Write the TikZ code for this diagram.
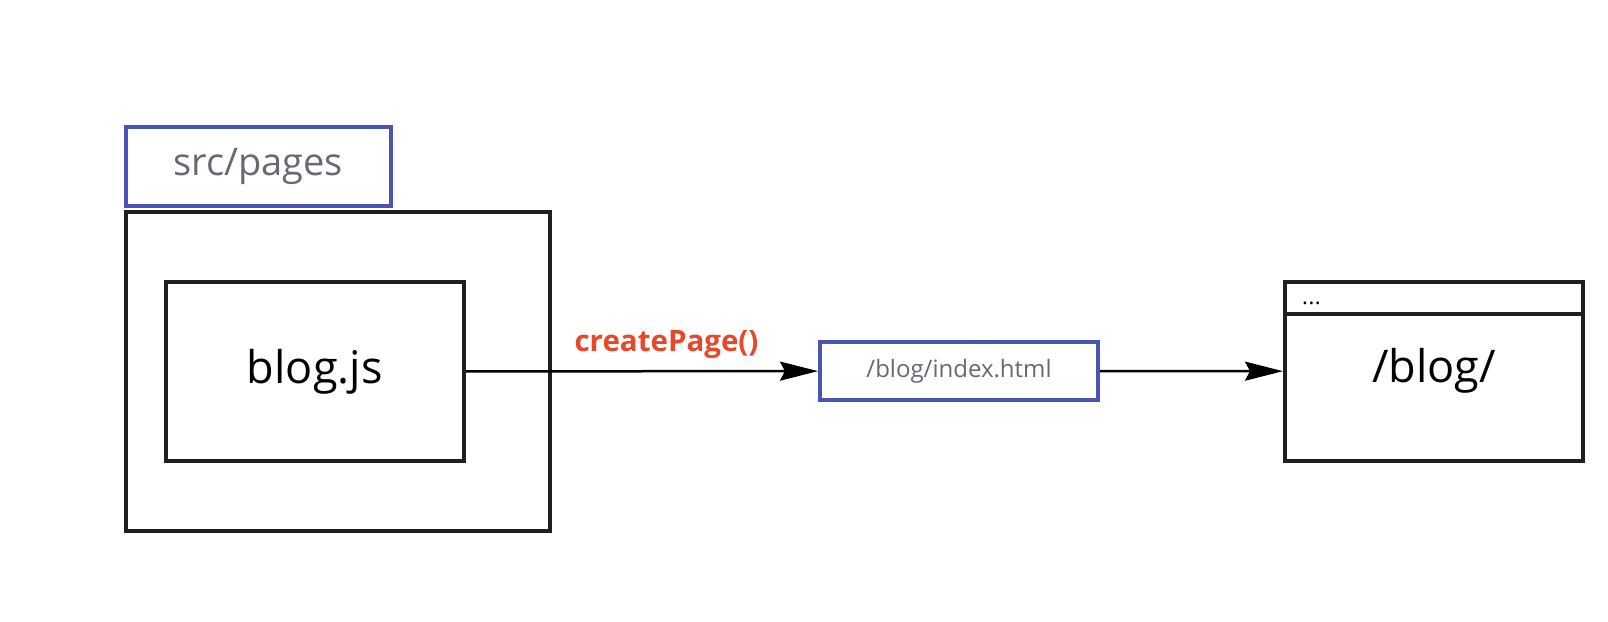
\documentclass[tikz,border=0pt]{standalone}
\usepackage{fontspec}
\setmainfont{Open Sans}
\usetikzlibrary{arrows.meta}
\definecolor{bluebox}{HTML}{4A54B5}
\definecolor{graytext}{HTML}{666A72}
\definecolor{orangetext}{HTML}{E6482A}
\begin{document}
\begin{tikzpicture}[x=1pt,y=-1pt,
  blackbox/.style={draw=black!88, line width=4pt, rectangle, inner sep=0pt, fill=white},
  bluebx/.style={draw=bluebox, line width=4pt, rectangle, inner sep=0pt, fill=white, text=graytext},
  conn/.style={line width=2.5pt, -{Stealth[length=38pt,width=19pt,inset=5pt]}}
]
\useasboundingbox[fill=white] (0,0) rectangle (1608,621);
\node[blackbox, minimum width=423.5pt, minimum height=319pt] (outer) at (337.75,371.5) {};
\node[bluebx, minimum width=264.5pt, minimum height=79.5pt, font=\fontsize{38}{44}\selectfont] (pages) at (258.25,166.25) {\raisebox{-2pt}{src/pages}};
\node[blackbox, minimum width=298.5pt, minimum height=179pt, font=\fontsize{45}{52}\selectfont] (inner) at (314.75,371.5) {\raisebox{-2pt}{blog.js}};
\node[bluebx, minimum width=278pt, minimum height=58pt, font=\fontsize{24}{28}\selectfont] (index) at (959,371) {/blog/index.html};
\node[blackbox, minimum width=298pt, minimum height=179.5pt, font=\fontsize{45}{52}\selectfont] (browser) at (1434,371.25) {\raisebox{-3pt}{/blog/}};
\coordinate (barL) at (1285,314);
\coordinate (barR) at (1583,314);
\draw[line width=4pt, black!88] (barL) -- (barR);
\node[anchor=base west, inner sep=0pt, font=\fontsize{22}{26}\selectfont] (dots) at (1302,304) {.\kern0.5pt.\kern0.5pt.};
\draw[conn] (inner) -- (index);
\draw[conn] (index) -- (browser);
\node[anchor=base, inner sep=0pt, text=orangetext, font=\bfseries\fontsize{29.5}{34}\selectfont] (lbl) at (666.5,351) {createPage()};
\end{tikzpicture}
\end{document}
